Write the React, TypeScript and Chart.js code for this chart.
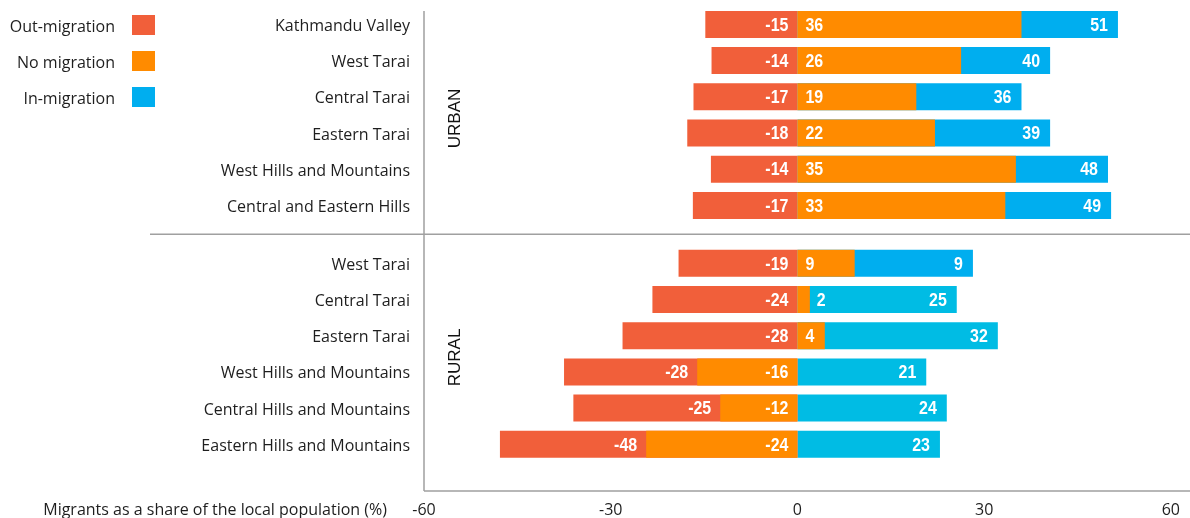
import React, { useEffect, useRef } from 'react';
import { Chart, registerables } from 'chart.js';

Chart.register(...registerables);

// ---- data ----
const urbanRegions = [
  'Kathmandu Valley',
  'West Tarai',
  'Central Tarai',
  'Eastern Tarai',
  'West Hills and Mountains',
  'Central and Eastern Hills',
];
const ruralRegions = [
  'West Tarai',
  'Central Tarai',
  'Eastern Tarai',
  'West Hills and Mountains',
  'Central Hills and Mountains',
  'Eastern Hills and Mountains',
];
const groupNames = ['URBAN', 'RURAL'];
const seriesNames = ['Out-migration', 'No migration', 'In-migration'];

// bar extents as drawn (urban rows first, then rural rows)
const outMigration = [-14.8, -13.8, -16.7, -17.7, -13.9, -16.8, -19.1, -23.3, -28.1, -37.5, -36, -47.8];
const noMigration = [36, 26.3, 19.1, 22.1, 35.1, 33.4, 9.2, 2, 4.4, -16.1, -12.4, -24.3];
const inMigration = [51.5, 40.6, 36, 40.6, 49.9, 50.4, 28.2, 25.6, 32.2, 20.7, 24, 22.9];

// printed value labels
const outLabels = ['-15', '-14', '-17', '-18', '-14', '-17', '-19', '-24', '-28', '-28', '-25', '-48'];
const noLabels = ['36', '26', '19', '22', '35', '33', '9', '2', '4', '-16', '-12', '-24'];
const inLabels = ['51', '40', '36', '39', '48', '49', '9', '25', '32', '21', '24', '23'];

const xTicks = [-60, -30, 0, 30, 60];
const axisTitle = 'Migrants as a share of the local population (%)';

// ---- styles / layout ----
const RED = '#F15F3A';
const ORANGE = '#FF8B00';
const BLUE = '#00AEEF';
const CYAN = '#00BCE4';
const inColors = [BLUE, BLUE, BLUE, BLUE, BLUE, BLUE, BLUE, CYAN, CYAN, CYAN, CYAN, CYAN];
const TEXT = '#1e1e1e';
const LINE = '#A0A0A0';
const FONT = '"Open Sans", "Noto Sans", sans-serif';
const VALUE_FONT = 'bold 19px "Liberation Sans", Arial, sans-serif';
const VALUE_SX = 0.84;

const GROUP_GAP = 0.6;
const groups = [urbanRegions, ruralRegions];
const groupStarts: number[] = [];
const positions: number[] = [];
const allRegions: string[] = [];
{
  let p = 0;
  groups.forEach((g) => {
    groupStarts.push(p);
    g.forEach((name, j) => {
      positions.push(p + j);
      allRegions.push(name);
    });
    p += g.length + GROUP_GAP;
  });
}
const separatorPos = (urbanRegions.length - 1 + groupStarts[1]) / 2;

function labelWidth(ctx: CanvasRenderingContext2D, text: string) {
  ctx.save();
  ctx.font = VALUE_FONT;
  const w = ctx.measureText(text).width * VALUE_SX;
  ctx.restore();
  return w;
}
function drawValueLabel(ctx: CanvasRenderingContext2D, text: string, x: number, y: number, align: 'left' | 'right') {
  const w = labelWidth(ctx, text);
  ctx.save();
  ctx.font = VALUE_FONT;
  const left = align === 'left' ? x : x - w;
  ctx.translate(left, y);
  ctx.scale(VALUE_SX, 1);
  ctx.textAlign = 'left';
  ctx.textBaseline = 'middle';
  ctx.fillStyle = '#ffffff';
  ctx.fillText(text, 0, 1);
  ctx.restore();
}

const overlayPlugin = {
  id: 'overlay',
  afterDatasetsDraw(chart: any) {
    const { ctx, chartArea } = chart;
    const yScale = chart.scales.y;
    const mOut = chart.getDatasetMeta(0);
    const mNo = chart.getDatasetMeta(1);
    const mIn = chart.getDatasetMeta(2);

    // value labels
    for (let i = 0; i < positions.length; i++) {
      const eOut = mOut.data[i];
      const eNo = mNo.data[i];
      const eIn = mIn.data[i];
      const yc = eOut.y;
      const zero = eNo.base;
      const redAnchor = noMigration[i] < 0 ? eNo.x : eOut.base;
      drawValueLabel(ctx, outLabels[i], redAnchor - 9, yc, 'right');
      if (noMigration[i] >= 0) {
        const w = labelWidth(ctx, noLabels[i]);
        if (eNo.x - zero >= w + 16) drawValueLabel(ctx, noLabels[i], zero + 8, yc, 'left');
        else drawValueLabel(ctx, noLabels[i], eNo.x + 7, yc, 'left');
      } else {
        drawValueLabel(ctx, noLabels[i], zero - 9, yc, 'right');
      }
      drawValueLabel(ctx, inLabels[i], eIn.x - 10, yc, 'right');
    }

    ctx.save();
    // axis lines
    ctx.strokeStyle = LINE;
    ctx.lineWidth = 1.5;
    ctx.beginPath();
    ctx.moveTo(chartArea.left, chartArea.top);
    ctx.lineTo(chartArea.left, chartArea.bottom);
    ctx.moveTo(chartArea.left, chartArea.bottom);
    ctx.lineTo(chart.width, chartArea.bottom);
    const sy = yScale.getPixelForValue(separatorPos);
    ctx.moveTo(150, sy);
    ctx.lineTo(chart.width, sy);
    ctx.stroke();

    // category labels
    ctx.fillStyle = TEXT;
    ctx.font = '16px ' + FONT;
    ctx.textAlign = 'right';
    ctx.textBaseline = 'middle';
    allRegions.forEach((name, i) => {
      ctx.fillText(name, chartArea.left - 14, yScale.getPixelForValue(positions[i]) + 2);
    });

    // group labels
    ctx.fillStyle = '#111111';
    ctx.font = '17px "Liberation Sans", Arial, sans-serif';
    ctx.textAlign = 'center';
    ctx.textBaseline = 'middle';
    groupNames.forEach((g, k) => {
      const gy = yScale.getPixelForValue(groupStarts[k] + 2.6);
      ctx.save();
      ctx.translate(chartArea.left + 31, gy);
      ctx.rotate(-Math.PI / 2);
      ctx.fillText(g, 0, 0);
      ctx.restore();
    });

    // axis title
    ctx.fillStyle = TEXT;
    ctx.font = '16px ' + FONT;
    ctx.textAlign = 'right';
    ctx.textBaseline = 'middle';
    ctx.fillText(axisTitle, chartArea.left - 37, chartArea.bottom + 19);

    // legend
    const legendColors = [RED, ORANGE, BLUE];
    seriesNames.forEach((name, k) => {
      const ly = 25 + k * 36;
      ctx.fillStyle = TEXT;
      ctx.textAlign = 'right';
      ctx.fillText(name, 115, ly + 2);
      ctx.fillStyle = legendColors[k];
      ctx.fillRect(132, ly - 10, 23, 20);
    });
    ctx.restore();
  },
};

export default function App() {
  const ref = useRef<HTMLCanvasElement | null>(null);

  useEffect(() => {
    document.body.style.margin = '0';
    const canvas = ref.current;
    if (!canvas) return;
    const mk = (vals: number[]) => vals.map((v, i) => ({ x: v, y: positions[i] }));
    const common = { grouped: false, barPercentage: 0.9, categoryPercentage: 1, maxBarThickness: 27, borderWidth: 0 };
    const chart = new Chart(canvas, {
      type: 'bar',
      data: {
        datasets: [
          { label: seriesNames[0], data: mk(outMigration), backgroundColor: RED, order: 1, ...common },
          { label: seriesNames[1], data: mk(noMigration), backgroundColor: ORANGE, order: 0, ...common },
          { label: seriesNames[2], data: mk(inMigration), backgroundColor: inColors, order: 2, ...common },
        ] as any,
      },
      options: {
        indexAxis: 'y',
        responsive: false,
        animation: false,
        devicePixelRatio: 1,
        layout: { padding: { top: 11, right: 19, bottom: 0, left: 0 } },
        plugins: { legend: { display: false }, tooltip: { enabled: false } },
        scales: {
          x: {
            type: 'linear',
            min: -60,
            max: 60,
            offset: false,
            grid: { display: false, drawTicks: false, offset: false },
            border: { display: false },
            afterBuildTicks: (s: any) => {
              s.ticks = xTicks.map((v) => ({ value: v }));
            },
            afterFit: (s: any) => {
              s.height = 27;
            },
            ticks: {
              autoSkip: false,
              maxRotation: 0,
              padding: 10,
              color: TEXT,
              font: { family: FONT, size: 16 },
              callback: (v: any) => String(v),
            },
          },
          y: {
            type: 'linear',
            reverse: true,
            min: -0.37,
            max: 12.89,
            offset: false,
            grid: { display: false, drawTicks: false, offset: false },
            border: { display: false },
            afterBuildTicks: (s: any) => {
              s.ticks = positions.map((v) => ({ value: v }));
            },
            afterFit: (s: any) => {
              s.width = 424;
            },
            ticks: { display: false },
          },
        } as any,
      },
      plugins: [overlayPlugin],
    });
    return () => chart.destroy();
  }, []);

  return (
    <div style={{ width: 1190, height: 518, position: 'relative' }}>
      <canvas ref={ref} width={1190} height={518} style={{ display: 'block', width: 1190, height: 518 }} />
    </div>
  );
}
